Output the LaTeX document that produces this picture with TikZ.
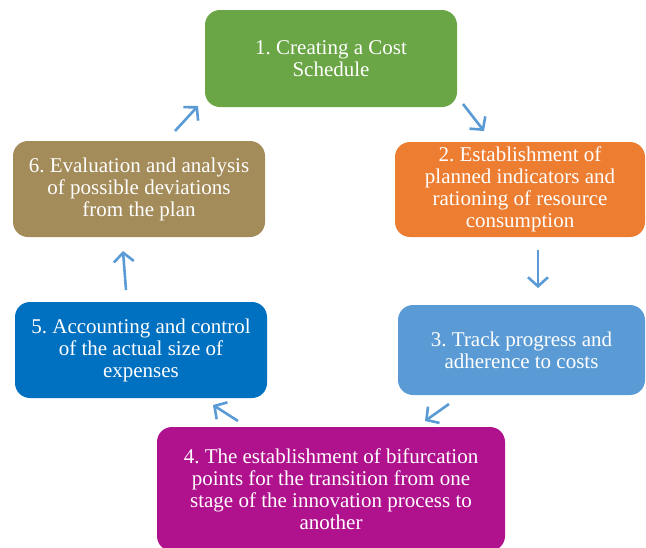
\documentclass[tikz,border=0pt]{standalone}
\usepackage{fontspec}
\setmainfont{Liberation Serif}
\usetikzlibrary{arrows.meta}
\definecolor{cgreen}{HTML}{6AA546}
\definecolor{corange}{HTML}{ED7D31}
\definecolor{clblue}{HTML}{5B9BD5}
\definecolor{cblue}{HTML}{0070C0}
\definecolor{cmag}{HTML}{B0128E}
\definecolor{ckhaki}{HTML}{A38B5A}
\definecolor{carrow}{HTML}{5B9BD5}
\frenchspacing
\tikzset{
  stagebox/.style={rectangle, rounded corners=15pt, draw=none, text=white,
    align=center, inner sep=0pt,
    font=\fontsize{21pt}{22pt}\selectfont},
  flowarrow/.style={draw=carrow, line width=2.6pt,
    -{Straight Barb[length=9pt,width=20pt,line width=2.6pt]}}
}
\begin{document}
\begin{tikzpicture}[x=1pt,y=-1pt]
\useasboundingbox (0,0) rectangle (646,547);
\node[stagebox, fill=cgreen, minimum width=252pt, minimum height=97pt] (s1) at (331,58.5)
  {1. Creating a Cost\\Schedule};
\node[stagebox, fill=corange, minimum width=250pt, minimum height=95pt] (s2) at (520,189.5)
  {2. Establishment of\\planned indicators and\\rationing of resource\\consumption};
\node[stagebox, fill=clblue, minimum width=247pt, minimum height=90pt] (s3) at (521.5,350)
  {3. Track progress and\\adherence to costs};
\node[stagebox, fill=cmag, minimum width=348pt, minimum height=124pt] (s4) at (331,489)
  {4. The establishment of bifurcation\\points for the transition from one\\stage of the innovation process to\\another};
\node[stagebox, fill=cblue, minimum width=252pt, minimum height=96pt] (s5) at (141,350)
  {5. Accounting and control\\of the actual size of\\expenses};
\node[stagebox, fill=ckhaki, minimum width=252pt, minimum height=96pt] (s6) at (139,189)
  {6. Evaluation and analysis\\of possible deviations\\from the plan};
% arrow end points
\coordinate (a12s) at (463,104);
\coordinate (a12e) at (484,131);
\coordinate (a23s) at (538,250);
\coordinate (a23e) at (538,288);
\coordinate (a34s) at (449,404);
\coordinate (a34e) at (425,421);
\coordinate (a45s) at (238,421);
\coordinate (a45e) at (213,405);
\coordinate (a56s) at (126,290);
\coordinate (a56e) at (123,251);
\coordinate (a61s) at (175,131);
\coordinate (a61e) at (198,106);
\draw[flowarrow] (a12s) -- (a12e);
\draw[flowarrow] (a23s) -- (a23e);
\draw[flowarrow] (a34s) -- (a34e);
\draw[flowarrow] (a45s) -- (a45e);
\draw[flowarrow] (a56s) -- (a56e);
\draw[flowarrow] (a61s) -- (a61e);
\end{tikzpicture}
\end{document}
